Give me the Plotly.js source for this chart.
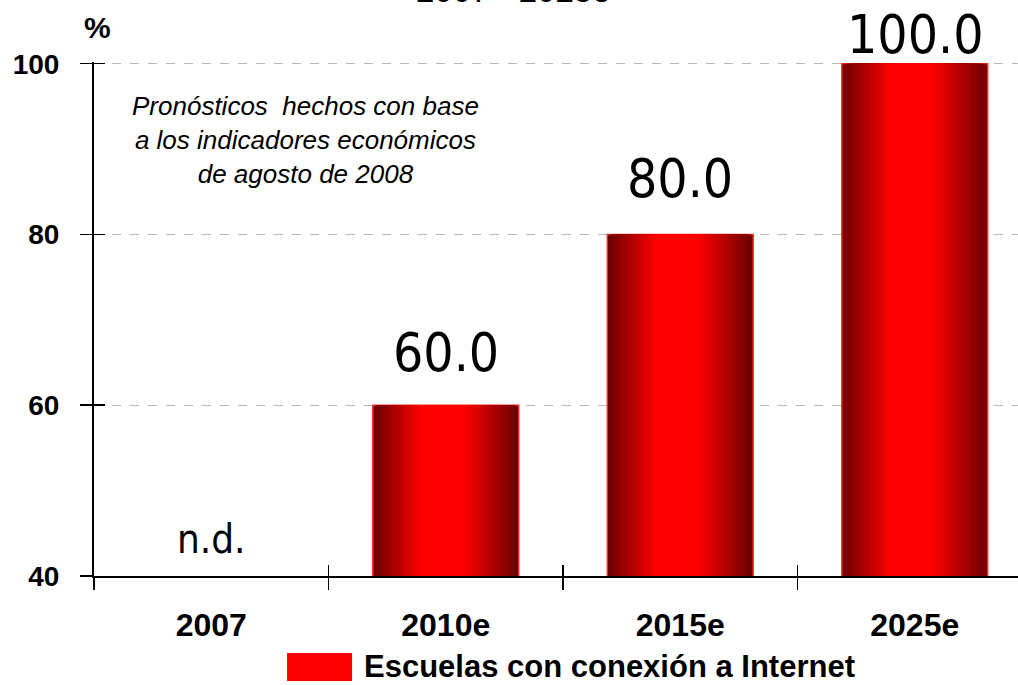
<!DOCTYPE html>
<html>
<head>
<meta charset="utf-8">
<script src="https://cdn.plot.ly/plotly-3.0.1.min.js"></script>
<style>
  html, body { margin: 0; padding: 0; overflow: hidden; background: #fff; }
  #chart { width: 1040px; height: 685px; }
</style>
</head>
<body>
<div id="chart"></div>
<script>
// ---- data ----
const categories = ['2007', '2010e', '2015e', '2025e'];
const values = [null, 60, 80, 100];
const valueLabels = ['n.d.', '60.0', '80.0', '100.0'];
const seriesName = 'Escuelas con conexión a Internet';
const yTickValues = [40, 60, 80, 100];
const titleText = '2007 - 2025e';
const unitText = '%';
const noteText = 'Pronósticos  hechos con base<br>a los indicadores económicos<br>de agosto de 2008';

// ---- style ----
const SANS = '"Liberation Sans", Arial, sans-serif';
const NARROW = '"Liberation Sans Narrow", "Arial Narrow", "DejaVu Sans Condensed", sans-serif';
const barWidth = 0.622;
const peak = 0.47;
const layers = 30;
const dark = [108, 0, 0];
const bright = [255, 0, 0];
const labelLift = [37, 53, 56, 29];
const labelSize = [40, 53, 53, 53];

function mix(t) {
  const u = Math.min(1, t / 0.7);
  const c = dark.map((d, i) => Math.round(d + (bright[i] - d) * u));
  return 'rgb(' + c.join(',') + ')';
}

const traces = [];
for (let k = 0; k < layers; k++) {
  const t = k / layers;
  const left = -barWidth / 2 + peak * barWidth * t;
  const right = barWidth / 2 - (1 - peak) * barWidth * t;
  traces.push({
    type: 'bar',
    x: categories,
    y: values,
    width: right - left,
    offset: left,
    marker: {
      color: mix(t),
      line: k === 0 ? { color: '#ff2a2a', width: 1.5 } : { width: 0 }
    },
    name: seriesName,
    showlegend: false,
    hoverinfo: 'skip'
  });
}
// helper trace so the overlay axes (crossing ticks) are drawn
traces.push({
  type: 'scatter', mode: 'markers', x: categories, y: values.map(v => v == null ? yTickValues[0] : v),
  xaxis: 'x2', yaxis: 'y2', marker: { opacity: 0 }, showlegend: false, hoverinfo: 'skip'
});

const yRange = [yTickValues[0], yTickValues[yTickValues.length - 1] + 0.2];
const xRange = [-0.5, categories.length - 0.5];

const annotations = [];
categories.forEach((c, i) => {
  annotations.push({
    x: i, y: values[i] == null ? yTickValues[0] : values[i],
    xref: 'x', yref: 'y', text: valueLabels[i], showarrow: false,
    xanchor: 'center', yanchor: 'middle', yshift: labelLift[i],
    font: { family: NARROW, size: labelSize[i], color: '#000' }
  });
});
annotations.push({
  xref: 'paper', yref: 'paper', x: 0.4467, y: 1.14, text: titleText, showarrow: false,
  xanchor: 'center', yanchor: 'middle', font: { family: SANS, size: 33, color: '#000' }
});
annotations.push({
  xref: 'paper', yref: 'paper', x: 0.0032, y: 1.068, text: unitText, showarrow: false,
  xanchor: 'center', yanchor: 'middle', font: { family: SANS, size: 30, color: '#000', weight: 'bold' }
});
annotations.push({
  xref: 'paper', yref: 'paper', x: 0.226, y: 0.848, text: noteText, showarrow: false,
  xanchor: 'center', yanchor: 'middle', align: 'center',
  font: { family: SANS, size: 26, color: '#000', style: 'italic' }
});
annotations.push({
  xref: 'paper', yref: 'paper', x: 0.2857, y: -0.177, text: seriesName, showarrow: false,
  xanchor: 'left', yanchor: 'middle', font: { family: SANS, size: 31, color: '#000', weight: 'bold' }
});

const layout = {
  width: 1040, height: 685,
  margin: { l: 94, r: 8, t: 62, b: 109 },
  paper_bgcolor: '#fff', plot_bgcolor: '#fff',
  barmode: 'overlay',
  showlegend: false,
  xaxis: {
    type: 'category', categoryorder: 'array', categoryarray: categories, range: xRange,
    tickson: 'boundaries', ticks: 'outside', ticklen: 12, tickwidth: 1.5, tickcolor: '#000',
    showline: true, linecolor: '#000', linewidth: 2, showgrid: false, zeroline: false,
    ticklabelstandoff: 20,
    tickfont: { family: SANS, size: 32, color: '#000', weight: 'bold' }
  },
  xaxis2: {
    type: 'category', categoryorder: 'array', categoryarray: categories, range: xRange,
    overlaying: 'x', anchor: 'y2', side: 'bottom',
    tickson: 'boundaries', ticks: 'inside', ticklen: 11, tickwidth: 1.5, tickcolor: '#000',
    showticklabels: false, showline: false, showgrid: false, zeroline: false
  },
  yaxis: {
    range: yRange, tickmode: 'array', tickvals: yTickValues,
    ticks: 'outside', ticklen: 12, tickwidth: 1.5, tickcolor: '#000',
    showline: true, linecolor: '#000', linewidth: 2, zeroline: false,
    showgrid: true, gridcolor: '#b8b8b8', gridwidth: 1, griddash: 'dash',
    ticklabelstandoff: 15,
    tickfont: { family: SANS, size: 28, color: '#000', weight: 'bold' }
  },
  yaxis2: {
    range: yRange, tickmode: 'array', tickvals: yTickValues,
    overlaying: 'y', anchor: 'x2', side: 'left',
    ticks: 'inside', ticklen: 11, tickwidth: 1.5, tickcolor: '#000',
    showticklabels: false, showline: false, showgrid: false, zeroline: false
  },
  annotations: annotations,
  shapes: [{
    type: 'rect', xref: 'paper', yref: 'paper',
    x0: 0.2058, x1: 0.2751, y0: -0.2043, y1: -0.1498,
    fillcolor: '#ff0000', line: { width: 0 }
  }]
};

Plotly.newPlot('chart', traces, layout, { displayModeBar: false, staticPlot: true });
</script>
</body>
</html>
